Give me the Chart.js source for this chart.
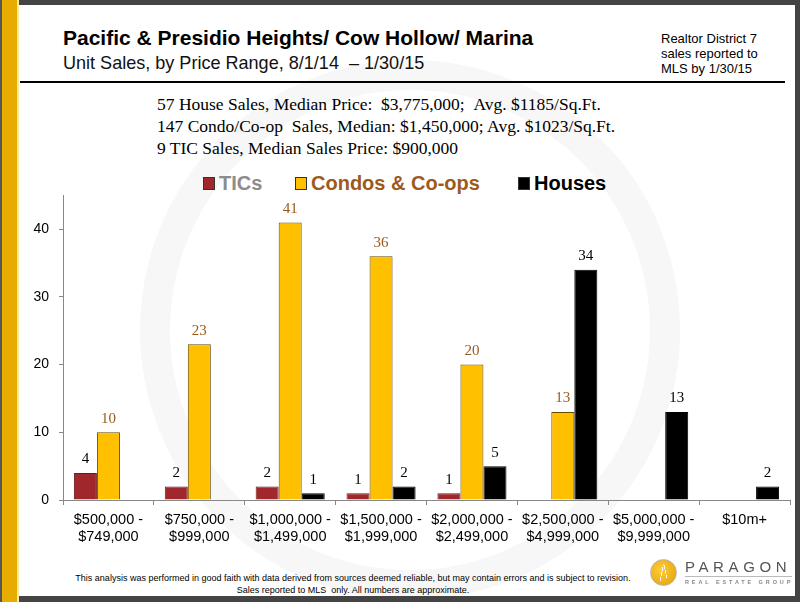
<!DOCTYPE html>
<html>
<head>
<meta charset="utf-8">
<script src="https://cdn.jsdelivr.net/npm/chart.js@4.4.0/dist/chart.umd.min.js"></script>
<style>
  html, body { margin: 0; padding: 0; }
  body { width: 800px; height: 602px; position: relative; overflow: hidden; background: #fff; font-family: "Liberation Sans", Arial, sans-serif; }
  .frame-top { position: absolute; left: 0; top: 0; width: 800px; height: 5px; background: #444; }
  .frame-right { position: absolute; right: 0; top: 0; width: 5px; height: 602px; background: #444; }
  .frame-bottom { position: absolute; left: 0; bottom: 0; width: 800px; height: 6px; background: #444; }
  .strip { position: absolute; left: 0; top: 0; width: 17px; height: 602px; background: #e8ab00; border-left: 2px solid #555; box-sizing: border-box; }
  .strip-edge { position: absolute; left: 17px; top: 0; width: 2px; height: 602px; background: #fbe9a8; }
  .title { position: absolute; left: 63px; top: 26px; font-size: 21px; font-weight: bold; color: #000; white-space: nowrap; }
  .subtitle { position: absolute; left: 63px; top: 52px; font-size: 19px; color: #111; white-space: nowrap; transform: scaleX(0.95); transform-origin: 0 0; }
  .note { position: absolute; left: 661px; top: 31px; font-size: 13px; line-height: 15px; color: #000; white-space: nowrap; }
  .rule { position: absolute; left: 20px; top: 81px; width: 765px; height: 2px; background: #000; }
  .stats { position: absolute; left: 157px; top: 93px; font-family: "Liberation Serif", "DejaVu Serif", serif; font-size: 17.5px; line-height: 22px; color: #000; white-space: nowrap; }
  .legend { position: absolute; top: 172px; left: 0; width: 800px; font-weight: bold; font-size: 20px; }
  .legend span { position: absolute; white-space: nowrap; }
  .legend i { display: inline-block; width: 10px; height: 11px; margin-right: 4px; border: 1px solid #333; vertical-align: 0px; }
  .footer { position: absolute; left: 40px; top: 573px; width: 626px; text-align: center; font-size: 9px; line-height: 11.5px; color: #000; white-space: nowrap; }
  .logo { position: absolute; left: 650px; top: 559px; width: 25px; height: 25px; border-radius: 50%; background: radial-gradient(circle at 40% 40%, #ffcc3a, #e2a000); border: 1.5px solid #b5b5b5; }
  .logo-a { position: absolute; left: 660px; top: 564px; width: 7px; height: 17px; background: linear-gradient(to bottom right, transparent 45%, #fff 46%, #fff 56%, transparent 57%), linear-gradient(to bottom left, transparent 45%, #fff 46%, #fff 56%, transparent 57%); background-size: 50% 100%; background-repeat: no-repeat; background-position: left top, right top; }
  .logo-text { position: absolute; left: 685px; top: 558px; font-size: 15px; letter-spacing: 4.6px; color: #555; }
  .logo-line { position: absolute; left: 685px; top: 576px; width: 107px; height: 1px; background: #bbb; }
  .logo-sub { position: absolute; left: 685px; top: 579px; font-size: 5.5px; font-weight: bold; letter-spacing: 2.9px; color: #888; white-space: nowrap; }
  .wm { position: absolute; border-radius: 50%; border: 30px solid #f7f7f7; }
  #chartWrap { position: absolute; left: 20px; top: 177px; width: 775px; height: 383px; }
</style>
</head>
<body>
<div class="wm" style="left:140px; top:60px; width:480px; height:480px;"></div>
<div class="frame-top"></div>
<div class="frame-right"></div>
<div class="frame-bottom"></div>
<div class="strip"></div>
<div class="strip-edge"></div>

<div class="title">Pacific &amp; Presidio Heights/ Cow Hollow/ Marina</div>
<div class="subtitle">Unit Sales, by Price Range, 8/1/14 &nbsp;– 1/30/15</div>
<div class="note">Realtor District 7<br>sales reported to<br>MLS by 1/30/15</div>
<div class="rule"></div>

<div class="stats">
  57 House Sales, Median Price: &nbsp;$3,775,000; &nbsp;Avg. $1185/Sq.Ft.<br>
  147 Condo/Co-op &nbsp;Sales, Median: $1,450,000; Avg. $1023/Sq.Ft.<br>
  9 TIC Sales, Median Sales Price: $900,000
</div>

<div class="legend">
  <span style="left:203px; color:#8c8c8c;"><i style="background:#a0282c;"></i>TICs</span>
  <span style="left:295px; color:#9c5a1c;"><i style="background:#ffc000;"></i>Condos &amp; Co-ops</span>
  <span style="left:518px; color:#000;"><i style="background:#000;"></i>Houses</span>
</div>

<div id="chartWrap"><canvas id="chart"></canvas></div>

<div class="footer">This analysis was performed in good faith with data derived from sources deemed reliable, but may contain errors and is subject to revision.<br>Sales reported to MLS &nbsp;only. All numbers are approximate.</div>
<div class="logo"></div>
<div class="logo-a"></div>
<div class="logo-text">PARAGON</div>
<div class="logo-line"></div>
<div class="logo-sub">REAL ESTATE GROUP</div>

<script>
// price ranges
var priceRanges = [
    ['$500,000 -', '$749,000'],
    ['$750,000 -', '$999,000'],
    ['$1,000,000 -', '$1,499,000'],
    ['$1,500,000 -', '$1,999,000'],
    ['$2,000,000 -', '$2,499,000'],
    ['$2,500,000 -', '$4,999,000'],
    ['$5,000,000 -', '$9,999,000'],
    ['$10m+']
];
var ticSales = [4, 2, 2, 1, 1, null, null, null];
var condoSales = [10, 23, 41, 36, 20, 13, null, null];
var houseSales = [null, null, 1, 2, 5, 34, 13, 2];
var yTicks = [0, 10, 20, 30, 40];

// value labels above the bars
var barLabels = {
    id: 'barLabels',
    afterDatasetsDraw: function(chart) {
        var ctx = chart.ctx;
        ctx.save();
        ctx.font = '15px "Liberation Serif", "DejaVu Serif", serif';
        ctx.textAlign = 'center';
        ctx.textBaseline = 'bottom';
        chart.data.datasets.forEach(function(ds, i) {
            var meta = chart.getDatasetMeta(i);
            ctx.fillStyle = ds.labelColor;
            meta.data.forEach(function(bar, j) {
                var v = ds.data[j];
                if (v === null || v === undefined) return;
                ctx.fillText(String(v), bar.x, bar.y - 6);
            });
        });
        ctx.restore();
    }
};

var chart = new Chart(document.getElementById('chart').getContext('2d'), {
    type: 'bar',
    data: {
        labels: priceRanges,
        datasets: [
            {
                label: 'TICs',
                data: ticSales,
                backgroundColor: '#a0282c',
                borderColor: '#6e1a1c',
                borderWidth: 1,
                labelColor: '#000'
            },
            {
                label: 'Condos & Co-ops',
                data: condoSales,
                backgroundColor: '#ffc000',
                borderColor: '#6b4a00',
                borderWidth: 1,
                labelColor: '#9c5a1c'
            },
            {
                label: 'Houses',
                data: houseSales,
                backgroundColor: '#000',
                borderColor: '#000',
                borderWidth: 1,
                labelColor: '#000'
            }
        ]
    },
    options: {
        responsive: true,
        maintainAspectRatio: false,
        animation: false,
        layout: { padding: { top: 5, right: 5, left: 0, bottom: 0 } },
        plugins: {
            legend: { display: false },
            tooltip: { enabled: false }
        },
        datasets: {
            bar: { categoryPercentage: 0.76, barPercentage: 1.0, skipNull: false }
        },
        scales: {
            x: {
                grid: { drawOnChartArea: false, color: '#888', tickLength: 5, offset: true },
                border: { color: '#888', width: 1 },
                ticks: {
                    color: '#000',
                    font: { size: 14.5 },
                    padding: 6,
                    maxRotation: 0,
                    autoSkip: false
                },
                afterFit: function(scale) { scale.height = 60; }
            },
            y: {
                min: 0,
                max: 45,
                afterBuildTicks: function(scale) {
                    scale.ticks = yTicks.map(function(v) { return { value: v }; });
                },
                grid: { drawOnChartArea: false, color: '#888', tickLength: 4 },
                border: { color: '#888', width: 1 },
                ticks: {
                    color: '#000',
                    font: { size: 14 },
                    padding: 10
                },
                afterFit: function(scale) { scale.width = 43; }
            }
        }
    },
    plugins: [barLabels]
});
</script>
</body>
</html>
